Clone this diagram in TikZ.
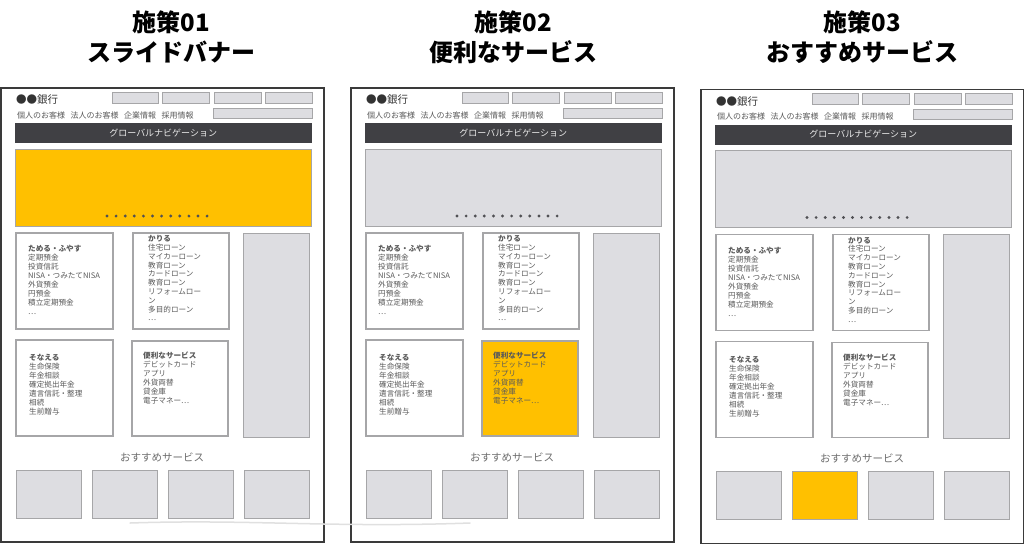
\documentclass[tikz,border=0pt]{standalone}
\usepackage{fontspec}
\setmainfont{Noto Sans CJK JP}
\usetikzlibrary{positioning}

\definecolor{hilite}{HTML}{FFC000}
\definecolor{boxgray}{HTML}{DDDDE1}
\definecolor{edgec}{HTML}{A6A6A8}
\definecolor{framec}{HTML}{3A3A3A}
\definecolor{navc}{HTML}{404044}
\definecolor{navtext}{HTML}{E8E8E8}
\definecolor{textc}{HTML}{5A5A5A}
\definecolor{textd}{HTML}{333333}
\definecolor{labelc}{HTML}{6E6E6E}
\definecolor{dotc}{HTML}{505054}

\begin{document}
\begin{tikzpicture}[x=1pt, y=-1pt,
frame/.style={draw=framec, line width=1.3pt, fill=white, anchor=north west, inner sep=0, outer sep=0},
greybox/.style={draw=edgec, fill=boxgray, line width=1pt, anchor=north west, inner sep=0, outer sep=0},
card/.style={draw=edgec, fill=white, line width=1.1pt, anchor=north west, inner sep=0, outer sep=0, minimum width=96pt, minimum height=96pt},
entry/.style={align=left, anchor=north west, inner sep=0, text=textc, font=\fontsize{7.6}{9}\selectfont},
title/.style={font=\fontsize{24}{30}\selectfont\bfseries, align=center}]
\useasboundingbox (0,0) rectangle (1024,555);

% titles
\node[title] (title1) at (171,37) {施策01\\スライドバナー};
\node[title] (title2) at (513,37) {施策02\\便利なサービス};
\node[title] (title3) at (862,37) {施策03\\おすすめサービス};

% one wireframe per idea, the highlighted part in orange
\foreach \i/\dy/\colb/\cols/\colr in {0/0/hilite/white/boxgray, 1/0/boxgray/hilite/boxgray, 2/1.5/boxgray/white/hilite}{
\begin{scope}[shift={(\i*350,\dy)}]
\node[frame, minimum width=323pt, minimum height=454pt] (frame-\i) at (1,88) {};

% header
\node[anchor=west, inner sep=0, text=textd, font=\fontsize{10.5}{12}\selectfont] (logo-\i) at (16,100) {●●銀行};
\node[greybox, minimum width=46pt, minimum height=11pt] (hb1-\i) at (112,92) {};
\node[greybox, minimum width=47pt, minimum height=11pt, right=4.5pt of hb1-\i] (hb2-\i) {};
\node[greybox, minimum width=47pt, minimum height=11pt, right=4.5pt of hb2-\i] (hb3-\i) {};
\node[greybox, minimum width=47pt, minimum height=11pt, right=4.5pt of hb3-\i] (hb4-\i) {};
\node[greybox, minimum width=99pt, minimum height=10pt] (search-\i) at (213,108) {};
\node[anchor=west, inner sep=0, text=textc, font=\fontsize{8}{9}\selectfont] (links-\i) at (17,115)
  {個人のお客様\hspace{5.5pt}法人のお客様\hspace{5.5pt}企業情報\hspace{5.5pt}採用情報};
\node[anchor=north west, inner sep=0, fill=navc, draw=navc, minimum width=296pt, minimum height=19pt,
  text=navtext, font=\fontsize{9}{10}\selectfont] (nav-\i) at (15,123) {グローバルナビゲーション};

% slide banner
\node[greybox, fill=\colb, minimum width=296pt, minimum height=77pt] (banner-\i) at (15,149) {};
\foreach \k in {0,...,11}
  \fill[dotc] (107+\k*9.1,216) circle (1.6pt);

% menu cards
\node[card, minimum width=97pt] (save-\i) at (16,233) {};
\node[card, right=20pt of save-\i] (loan-\i) {};
\node[greybox, minimum width=66pt, minimum height=204pt] (side-\i) at (243,233) {};
\node[card, minimum width=97pt, below=11pt of save-\i] (life-\i) {};
\node[card, fill=\cols, minimum height=95pt] (service-\i) at (132,341) {};

\node[entry] (savetext-\i) at (28,245.2) {\textbf{ためる・ふやす}\\定期預金\\投資信託\\NISA・つみたてNISA\\外貨預金\\円預金\\積立定期預金\\…};
\node[entry, font=\fontsize{7.6}{8.8}\selectfont] (loantext-\i) at (148,235.2) {\textbf{かりる}\\住宅ローン\\マイカーローン\\教育ローン\\カードローン\\教育ローン\\リフォームロー\\ン\\多目的ローン\\…};
\node[entry] (lifetext-\i) at (29,354.2) {\textbf{そなえる}\\生命保険\\年金相談\\確定拠出年金\\遺言信託・整理\\相続\\生前贈与};
\node[entry] (servicetext-\i) at (143,352) {\textbf{便利なサービス}\\デビットカード\\アプリ\\外貨両替\\貸金庫\\電子マネー…};

% recommended services
\node[text=labelc, font=\fontsize{10.5}{12}\selectfont] (reclabel-\i) at (162,457) {おすすめサービス};
\node[greybox, minimum width=65pt, minimum height=48pt] (rec1-\i) at (16,470) {};
\node[greybox, fill=\colr, minimum width=65pt, minimum height=48pt, right=11pt of rec1-\i] (rec2-\i) {};
\node[greybox, minimum width=65pt, minimum height=48pt, right=11pt of rec2-\i] (rec3-\i) {};
\node[greybox, minimum width=65pt, minimum height=48pt, right=11pt of rec3-\i] (rec4-\i) {};
\end{scope}
}

% faint stroke across the first two frames
\draw[black!12, line width=1.5pt, line cap=round] (130,523) .. controls (250,519) and (330,528) .. (470,523);
\end{tikzpicture}
\end{document}
